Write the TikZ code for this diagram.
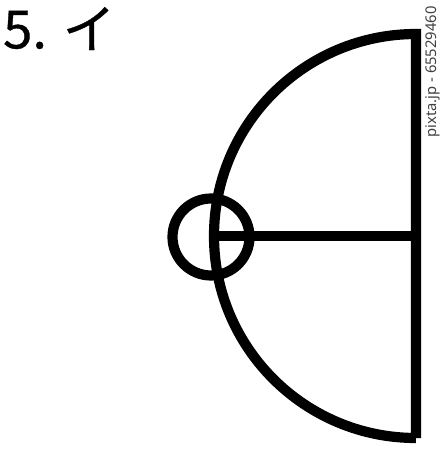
\documentclass[tikz,border=0pt]{standalone}
\usepackage{fontspec}
\newfontfamily\jpfont[FakeBold=0.6]{Noto Sans CJK JP}
\newfontfamily\markfont{Noto Sans}
\begin{document}
\begin{tikzpicture}[line width=2.9pt]
  \useasboundingbox (0,0) rectangle (4.41,-4.50);
  \node[anchor=north west, inner sep=0pt, font=\jpfont\fontsize{15}{15}\selectfont] (title) at (-0.02,-0.02) {5. イ};

  %half disc
  \draw[line join=miter] (4.16,-4.38) -- (4.16,-0.34) arc (90:270:2.02) -- cycle;
  \coordinate (left) at (2.14,-2.36);
  \coordinate (right) at (4.16,-2.36);
  \draw (left) -- (right); % radius

  %small circle
  \draw (2.11,-2.37) circle (0.385);

  \node[rotate=90, inner sep=0pt, text=black!75, font=\markfont\fontsize{4.2}{5}\selectfont] (mark) at (4.33,-0.72) {pixta.jp - 65529460};
\end{tikzpicture}
\end{document}
